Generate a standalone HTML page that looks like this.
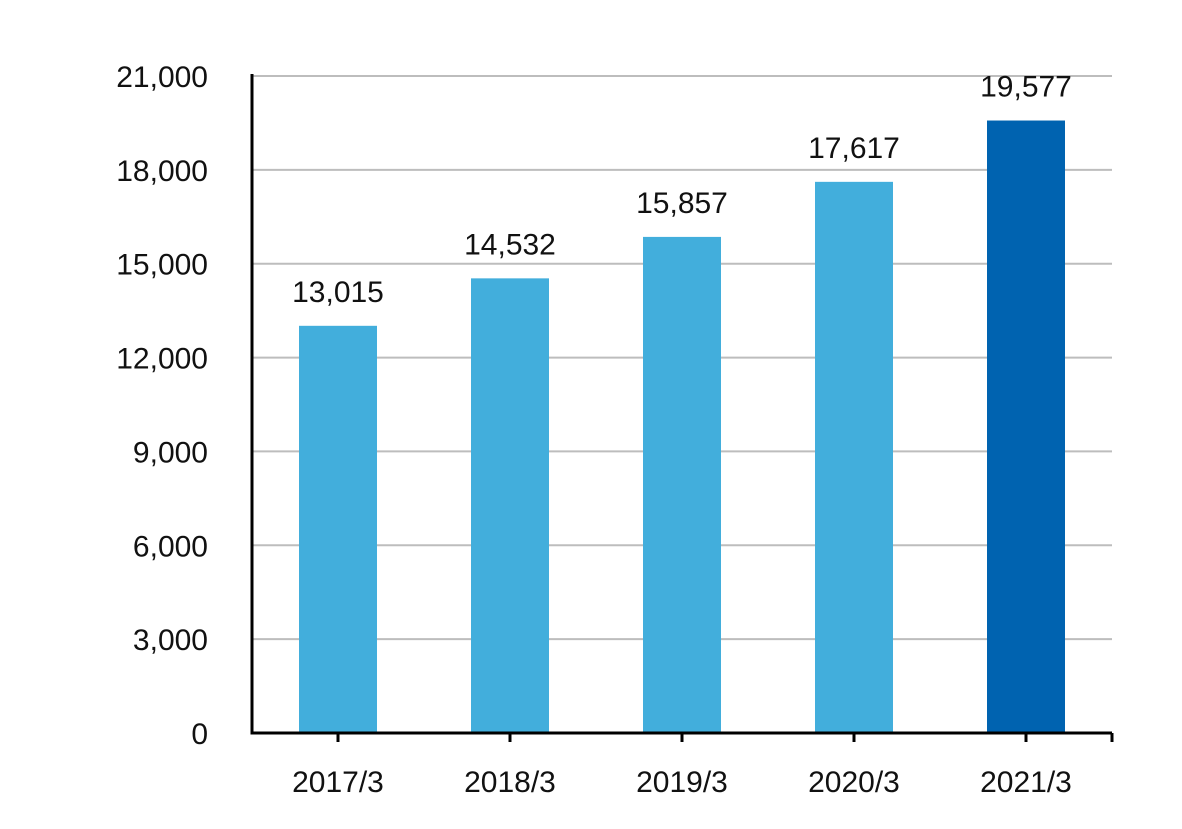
<!DOCTYPE html>
<html><head><meta charset="utf-8"><style>
body{margin:0;background:#fff;}
svg text{font-family:"Liberation Sans","DejaVu Sans",sans-serif;font-size:30px;fill:#111;}
</style></head><body>
<svg id="chart" width="1182" height="824" xmlns="http://www.w3.org/2000/svg">
<g id="grid"></g><g id="bars"></g><g id="axes"></g><g id="labels"></g>
</svg>
<script>
const categories=["2017/3","2018/3","2019/3","2020/3","2021/3"];
const values=[13015,14532,15857,17617,19577];
const valueLabels=["13,015","14,532","15,857","17,617","19,577"];
const yTicks=[0,3000,6000,9000,12000,15000,18000,21000];
const yTickLabels=["0","3,000","6,000","9,000","12,000","15,000","18,000","21,000"];
const barColors=["#42aedc","#42aedc","#42aedc","#42aedc","#0063b0"];
const NS="http://www.w3.org/2000/svg";
const x0=252,x1=1112,y0=733,yTop=76,yMax=21000;
const bw=(x1-x0)/categories.length, barW=78;
const y=v=>y0-(v/yMax)*(y0-yTop);
const xc=i=>x0+bw*(i+0.5);
function mk(t,a,p){const e=document.createElementNS(NS,t);for(const k in a)e.setAttribute(k,a[k]);document.getElementById(p).appendChild(e);return e;}
yTicks.forEach((t,i)=>{
  if(t>0){const l=mk("line",{x1:x0,x2:x1,y1:y(t),y2:y(t),stroke:"#bdbdbd","stroke-width":2},"grid");
  
  }
  const tx=mk("text",{x:208,y:y(t)+11,"text-anchor":"end"},"labels");tx.textContent=yTickLabels[i];
  
  
});
values.forEach((v,i)=>{
  const r=mk("rect",{x:xc(i)-barW/2,y:y(v),width:barW,height:y0-y(v),fill:barColors[i]},"bars");
  
  
  const t=mk("text",{x:xc(i),y:y(v)-24,"text-anchor":"middle"},"labels");t.textContent=valueLabels[i];
  
  
  const c=mk("text",{x:xc(i),y:792,"text-anchor":"middle"},"labels");c.textContent=categories[i];
  
  
  const tk=mk("line",{x1:xc(i),x2:xc(i),y1:y0,y2:y0+9,stroke:"#000","stroke-width":3},"axes");
  
  
});
const ya=mk("line",{x1:x0,x2:x0,y1:yTop-2,y2:y0+1.5,stroke:"#000","stroke-width":3},"axes");


const xa=mk("line",{x1:x0-1.5,x2:x1,y1:y0,y2:y0,stroke:"#000","stroke-width":3},"axes");


const te=mk("line",{x1:x1,x2:x1,y1:y0,y2:y0+9,stroke:"#000","stroke-width":3},"axes");


</script>
</body></html>
